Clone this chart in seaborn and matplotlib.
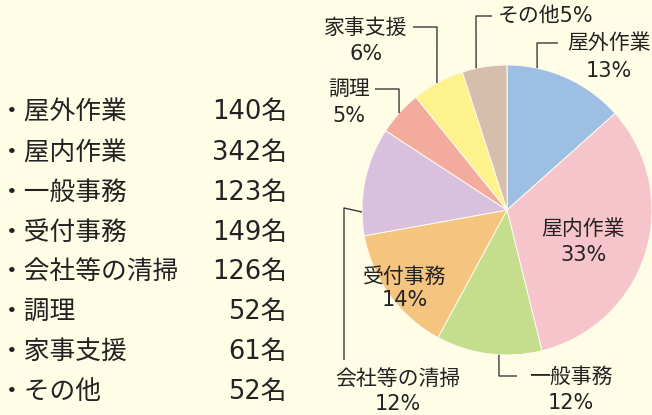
import numpy as np
import matplotlib
matplotlib.use("Agg")
import matplotlib.pyplot as plt
import seaborn as sns

# data
categories = ["屋外作業", "屋内作業", "一般事務", "受付事務", "会社等の清掃", "調理", "家事支援", "その他"]
counts = [140, 342, 123, 149, 126, 52, 61, 52]
slice_colors = ["#9dbfe3", "#f6c5cb", "#c5de8e", "#f5c47f", "#d9c0df", "#f2ab9c", "#fef28c", "#d5beab"]

W, H = 652, 415
BG = "#fffde6"
INK = "#222222"
LINE = "#3a3a3a"

# pie placement in pixel coords (image y grows downward)
CX, CY, R = 507, 210, 145

# label layout: anchor angle clockwise from top (None -> inside the slice),
# leader path after the anchor, and text lines with positions
label_layout = {
    "屋外作業": dict(angle=12, path=[(537, 43), (558, 43)],
                 lines=[(609, 43, "{name}"), (609, 71, "{pct}")]),
    "屋内作業": dict(angle=None, path=[],
                 lines=[(583, 229, "{name}"), (583, 255, "{pct}")]),
    "一般事務": dict(angle=183.2, path=[(499, 376), (517, 376)],
                 lines=[(571, 377, "{name}"), (571, 403, "{pct}")]),
    "受付事務": dict(angle=None, path=[],
                 lines=[(405, 277, "{name}"), (405, 300, "{pct}")]),
    "会社等の清掃": dict(angle=-90.8, path=[(344, 208), (344, 360)],
                   lines=[(398, 379, "{name}"), (398, 404, "{pct}")]),
    "調理": dict(angle=-48.1, path=[(399, 89), (375, 89)],
               lines=[(349, 89, "{name}"), (349, 116, "{pct}")]),
    "家事支援": dict(angle=-28.9, path=[(437, 27), (413, 27)],
                 lines=[(366, 28, "{name}"), (366, 54, "{pct}")]),
    "その他": dict(angle=-12.3, path=[(476, 16), (492, 16)],
                lines=[(546, 16, "{name}{pct}")]),
}


def edge_point(angle):
    a = np.radians(angle)
    return CX + R * np.sin(a), CY - R * np.cos(a)


def main():
    sns.set_theme(style="white")
    # wide latin digits from DejaVu, Japanese from Noto CJK
    plt.rcParams["font.family"] = ["DejaVu Sans", "Noto Sans CJK JP"]

    fig = plt.figure(figsize=(W / 100, H / 100), dpi=100, facecolor=BG)
    ax = fig.add_axes([0, 0, 1, 1])
    ax.set_facecolor(BG)

    palette = sns.color_palette(slice_colors)
    ax.pie(counts, colors=palette, startangle=90, counterclock=False,
           center=(CX, H - CY), radius=R, frame=False,
           wedgeprops=dict(edgecolor="#fdfbee", linewidth=0.7))
    ax.set_xlim(0, W)
    ax.set_ylim(0, H)
    ax.set_aspect("equal")
    ax.axis("off")

    total = sum(counts)
    for name, n in zip(categories, counts):
        pct = f"{round(n / total * 100)}%"
        spec = label_layout[name]
        if spec["angle"] is not None:
            pts = [edge_point(spec["angle"])] + spec["path"]
            xs = [p[0] for p in pts]
            ys = [H - p[1] for p in pts]
            ax.plot(xs, ys, color=LINE, lw=1.0, solid_capstyle="butt")
        for x, y, fmt in spec["lines"]:
            ax.text(x, H - y, fmt.format(name=name, pct=pct), ha="center", va="center",
                    fontsize=15, color=INK)

    # list on the left
    row_y = [112, 153, 193, 233, 272, 312, 352, 392]
    for name, n, y in zip(categories, counts, row_y):
        ax.text(-1, H - y, "・" + name, ha="left", va="center", fontsize=18.5, color=INK)
        ax.text(287, H - y, f"{n}名", ha="right", va="center", fontsize=18.5, color=INK)

    fig.savefig("out.png", dpi=100, facecolor=BG)


if __name__ == "__main__":
    main()
